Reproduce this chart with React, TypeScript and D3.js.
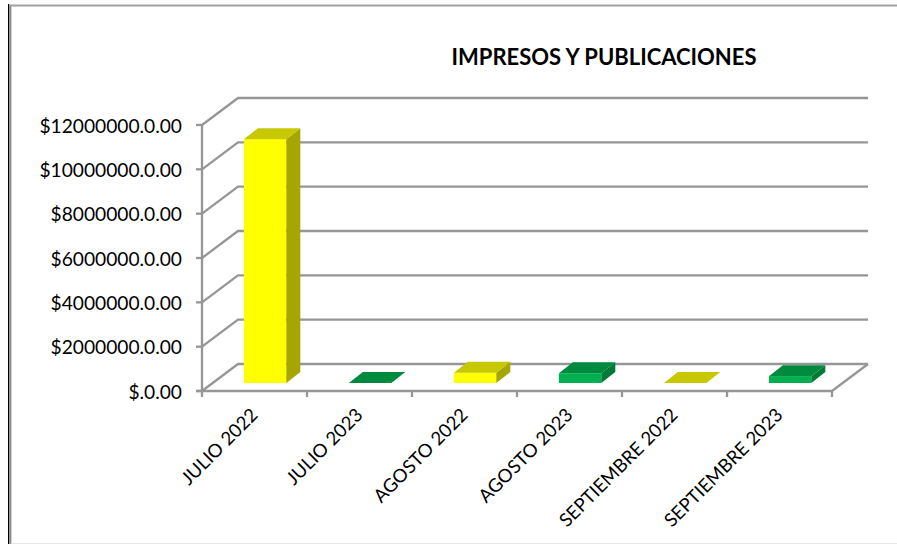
import React from "react";
import * as d3 from "d3";

const categories = ["JULIO 2022", "JULIO 2023", "AGOSTO 2022", "AGOSTO 2023", "SEPTIEMBRE 2022", "SEPTIEMBRE 2023"];
const values = [11000000, 5000, 460000, 440000, 5000, 310000];
const seriesKind = ["y", "g", "y", "g", "y", "g"];
const yTicks = [0, 2000000, 4000000, 6000000, 8000000, 10000000, 12000000];
const yTickLabels = ["$.0.00", "$2000000.0.00", "$4000000.0.00", "$6000000.0.00", "$8000000.0.00", "$10000000.0.00", "$12000000.0.00"];
const title = "IMPRESOS Y PUBLICACIONES";

const palette: Record<string, { front: string; top: string; side: string }> = {
  y: { front: "#FFFF00", top: "#C8C800", side: "#A6A600" },
  g: { front: "#00B050", top: "#008A3E", side: "#007A37" },
};

const W = 897, H = 544;
const x0 = 202, x1 = 832, yBase = 391, yTop = 125;
const wallDx = 36, wallDy = -27;
const barInsetDy = 8, barInsetDx = 10.6, depthDx = 14, depthDy = -11;
const grid = "#969696";
const font = "Lato, Carlito, 'Open Sans', sans-serif";

const x = d3.scaleBand<string>().domain(categories).range([x0, x1]).paddingInner(0).paddingOuter(0);
const y = d3.scaleLinear().domain([0, 12000000]).range([yBase, yTop]);

export default function App() {
  const line = d3.line();
  const barW = x.bandwidth() * 0.404;
  return (
    <svg width={W} height={H} viewBox={`0 0 ${W} ${H}`} style={{ position: "absolute", left: 0, top: 0, background: "#fff" }}>
      {/* frame */}
      <rect x={8} y={4} width={1.2} height={H - 4} fill="#000" />
      <rect x={9.2} y={5} width={2.2} height={H - 5} fill="#8c8c8c" />
      <rect x={9} y={4} width={W - 9} height={0.8} fill="#d8d8d0" />
      <rect x={9} y={4.8} width={W - 9} height={1.7} fill="#a0a0a0" />
      <rect x={11} y={H - 1} width={W - 11} height={1} fill="#e8e8e8" />

      {/* walls */}
      {yTicks.map((t) => (
        <path
          key={t}
          d={line([[x0, y(t)], [x0 + wallDx, y(t) + wallDy], [x1 + wallDx, y(t) + wallDy]])!}
          fill="none" stroke={grid} strokeWidth={2.3}
        />
      ))}
      <path d={line([[x1, yBase], [x1 + wallDx, yBase + wallDy]])!} fill="none" stroke={grid} strokeWidth={2.3} />

      {/* axes */}
      <path d={line([[x0, yTop], [x0, yBase]])!} stroke={grid} strokeWidth={2.3} fill="none" />
      <path d={line([[x0 - 6, yBase], [x1, yBase]])!} stroke={grid} strokeWidth={2.3} fill="none" />
      {yTicks.map((t) => (
        <line key={t} x1={x0 - 6} x2={x0} y1={y(t)} y2={y(t)} stroke={grid} strokeWidth={2.3} />
      ))}
      {[...categories.map((c) => x(c)!), x1].map((px) => (
        <line key={px} x1={px} x2={px} y1={yBase} y2={yBase + 6} stroke={grid} strokeWidth={2.3} />
      ))}

      {/* bars */}
      {categories.map((c, i) => {
        const colors = palette[seriesKind[i]];
        const left = x(c)! + (x.bandwidth() - barW) / 2 + barInsetDx;
        const right = left + barW;
        const bottom = yBase - barInsetDy;
        const top = bottom - (yBase - y(values[i]));
        return (
          <g key={c}>
            <rect x={left} y={top} width={barW} height={bottom - top} fill={colors.front} />
            <path
              d={line([[right, top], [right + depthDx, top + depthDy], [right + depthDx, bottom + depthDy], [right, bottom]])! + "Z"}
              fill={colors.side}
            />
            <path
              d={line([[left, top], [left + depthDx, top + depthDy], [right + depthDx, top + depthDy], [right, top]])! + "Z"}
              fill={colors.top}
            />
          </g>
        );
      })}

      {/* y labels */}
      {yTicks.map((t, i) => (
        <text key={t} x={182} y={y(t)} textAnchor="end" dominantBaseline="central"
          fontFamily={font} fontSize={19.2} fill="#000">
          {yTickLabels[i]}
        </text>
      ))}

      {/* x labels */}
      {categories.map((c) => {
        const px = x(c)! + x.bandwidth() / 2 + 4.5;
        const py = yBase + 25;
        return (
          <text key={c} transform={`translate(${px},${py}) rotate(-45)`} textAnchor="end"
            fontFamily={font} fontSize={18.6} fill="#000">
            {c}
          </text>
        );
      })}

      <text x={604} y={65} textAnchor="middle" fontFamily={font} fontWeight={700} fontSize={22} fill="#000">
        {title}
      </text>
    </svg>
  );
}
